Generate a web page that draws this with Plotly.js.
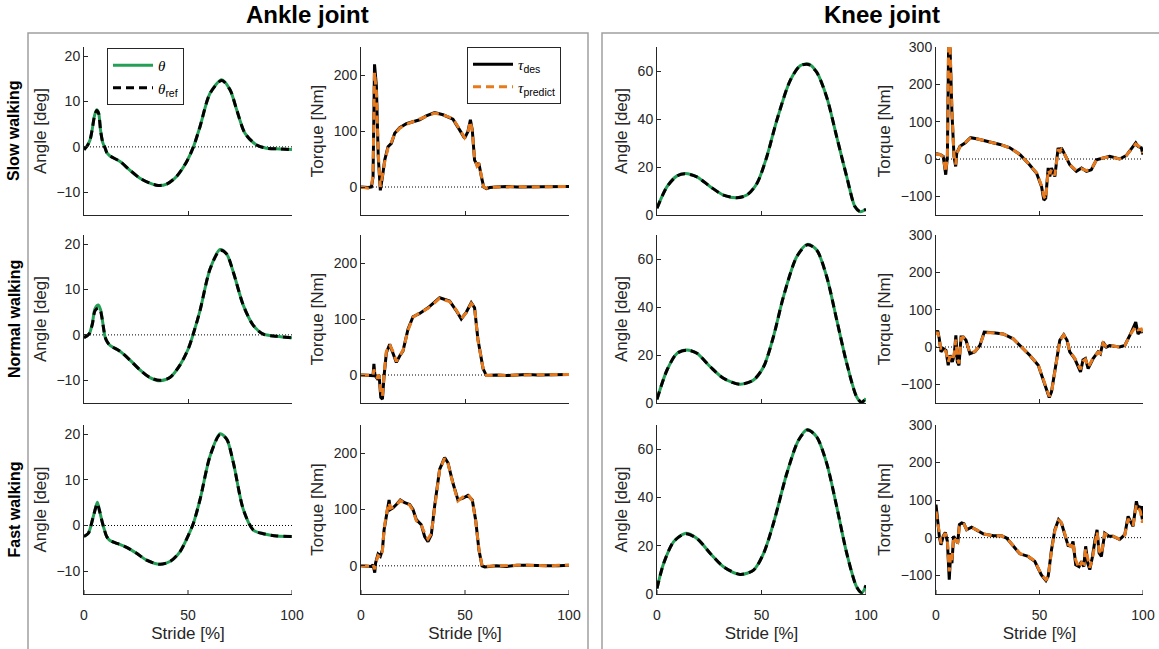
<!DOCTYPE html>
<html><head><meta charset="utf-8">
<script src="https://cdn.plot.ly/plotly-3.0.1.min.js"></script>
<style>html,body{margin:0;padding:0;background:#fff}#chart{width:1159px;height:649px}</style>
</head><body><div id="chart"></div>
<script>
// ---------------- data ----------------
const strideTicks = [0, 50, 100];
const strideRange = [0, 100];
const zeroRef = [0, 0];
const rowLabels = ['Slow walking', 'Normal walking', 'Fast walking'];
const jointTitles = ['Ankle joint', 'Knee joint'];
const yTitles = ['Angle [deg]', 'Torque [Nm]', 'Angle [deg]', 'Torque [Nm]'];
const yTickVals = [[-10, 0, 10, 20], [0, 100, 200], [0, 20, 40, 60], [-100, 0, 100, 200, 300]];
const yRanges = [[-15, 22], [-50, 250], [0, 70], [-150, 300]];

// Ankle angle, slow
const ankAngSlowX = [0,1.5,2.9,4,5,6.1,7,8,9,10.1,11,12.5,17.3,22,26.9,31.7,35.7,39.7,44.5,49.4,52.6,55.8,60.6,66.2,70.2,73.4,77.4,83,87.8,94.2,100];
const ankAngSlowTheta = [-0.6,0.2,1.5,4,6.8,8.2,7.5,3.5,1,-0.2,-1.3,-2,-3.2,-5.1,-6.9,-8,-8.5,-8.2,-6.5,-3.2,0,4.5,11.8,14.8,12.6,8.2,3,0.4,-0.3,-0.45,-0.6];
const ankAngSlowRef   = [-0.6,0.2,1.5,4,6.7,8.0,7.4,3.5,1,-0.2,-1.3,-2,-3.2,-5.1,-6.9,-8,-8.5,-8.2,-6.5,-3.2,0,4.5,11.8,14.6,12.6,8.2,3,0.4,-0.3,-0.45,-0.6];
// Ankle angle, normal
const ankAngNormX = [0,1.5,2.6,4,5.3,6.9,8,8.5,9.3,10.1,11,12.5,17.3,22,26.9,31.7,36.5,41.3,46.2,50.2,52.6,55.8,60.6,65.4,68.6,71.8,76.6,81.4,86.2,92.6,100];
const ankAngNormTheta = [-0.6,-0.2,0.3,2.5,5.8,6.6,5.5,4.3,1.8,-0.4,-1.4,-2.3,-3.6,-5.5,-7.7,-9.4,-10.1,-9.4,-6.6,-3.0,0.3,5.4,14.5,18.8,17.8,13.8,6.5,2.1,0.15,-0.3,-0.65];
const ankAngNormRef   = [-0.6,-0.2,0.3,2.3,5.3,5.9,5.2,4.1,1.8,-0.4,-1.4,-2.3,-3.6,-5.5,-7.7,-9.4,-10.0,-9.4,-6.6,-3.0,0.3,5.4,14.5,18.6,17.8,13.8,6.5,2.1,0.15,-0.3,-0.65];
// Ankle angle, fast
const ankAngFastX = [0,2.1,4.5,6.4,7.3,8.5,9.7,10.9,12.5,14.9,20.5,25.3,30.1,36.5,41.3,46.2,50.2,52.6,55.8,60.6,65.4,68.6,71.8,76.6,81.4,86.2,92.6,100];
const ankAngFastTheta = [-2.4,-1.7,2.0,5.1,3.6,1.25,-0.8,-2.4,-3.3,-3.75,-4.8,-6.1,-7.6,-8.5,-7.9,-5.7,-2.1,0.5,5.7,15.2,20.1,18.9,13.75,3.5,-1.0,-1.8,-2.3,-2.4];
const ankAngFastRef   = [-2.4,-1.7,2.0,4.8,3.5,1.25,-0.8,-2.4,-3.3,-3.75,-4.8,-6.1,-7.6,-8.5,-7.9,-5.7,-2.1,0.5,5.7,15.2,19.9,18.9,13.75,3.5,-1.0,-1.8,-2.3,-2.4];

// Knee angle
const kneeAngSlowX = [0,4.8,9.6,13.5,19.1,25.5,31.8,38.2,43,47.8,52.5,57.3,63.7,68.5,72.5,76.4,81.2,86,90.8,94.7,97.1,100];
const kneeAngSlowTheta = [2.8,11.8,16.3,17.3,15.9,11.8,8.3,7.2,8.3,13.1,24.2,39.4,56,62.2,62.9,59.5,49.1,32.5,15.9,3.5,1.4,2.4];
const kneeAngSlowRef   = [2.8,11.8,16.3,17.2,15.9,11.8,8.3,7.2,8.3,13.1,24.2,39.4,56,62.2,62.7,59.5,49.1,32.5,15.9,3.5,1.5,2.4];
const kneeAngNormX = [0,4.8,9.6,14.3,19.1,25.5,31.8,39.8,46.2,51,55.7,60.5,66.9,72,76.4,81.2,86,90.8,95.5,97.9,100];
const kneeAngNormTheta = [1.5,13.75,20.7,22.1,20.7,15.1,10.3,7.8,9.6,15.1,27.6,44.3,61,66.1,63.75,52.6,34.6,16.5,2.6,0.1,1.9];
const kneeAngNormRef   = [1.5,13.75,20.7,22.0,20.7,15.1,10.3,7.8,9.6,15.1,27.6,44.3,61,65.9,63.75,52.6,34.6,16.5,2.6,0.3,2.2];
const kneeAngFastX = [0,3.2,8,13.5,19.1,25.5,31.8,39.8,46.2,51,55.7,62.1,67.7,72,76.4,81.2,86,90.8,95.5,97.9,100];
const kneeAngFastTheta = [2.3,12.7,21.7,25.1,23,16.8,11.3,8.1,9.9,16.8,29.2,49.9,63.7,68.1,65.1,54.1,36.1,16.8,3.0,0.5,3.3];
const kneeAngFastRef   = [2.3,12.7,21.7,24.9,23,16.8,11.3,8.1,9.9,16.8,29.2,49.9,63.7,67.9,65.1,54.1,36.1,16.8,3.0,0.7,3.6];

// Ankle torque
const ankTqSlowX = [0,3.4,5,5.8,6.5,7.4,8.3,9.3,10.3,11.4,13,14.6,16.2,18.6,21.8,25,28.2,31.4,35.4,39.4,44.2,47.4,49.8,51.4,52.6,53.5,54.6,55.8,56.7,57.9,59,60.3,61.9,65,70,75,80,85,90,95,100];
const ankTqSlowDes = [0,-1,0,18,219,180,54,-6,18,48,72,78,96,106,113,116.5,120,127,133,129,121,102,87,99,120,102,48,39,42,18,0,-3,-1,0,1,0,0,1,0,0,1];
const ankTqSlowPred = [0,-2,0,22,205,170,60,0,20,45,70,80,95,105,112,117,121,127,132,129,122,103,88,98,117,100,50,37,40,20,0,-2,-1,0,0,1,0,0,0,1,1];
const ankTqNormX = [0,4.2,5.8,6.2,6.7,7.7,8.7,9.5,10.3,11.1,12.2,13.8,15.4,17,18.6,20.2,22.6,25,28.2,32.2,37.8,42.6,45.8,48.2,50.6,53,54.6,56.2,58.7,60.3,65,70,75,80,85,90,95,100];
const ankTqNormDes = [0,-1,-1,20,-1,-6,0,-40,-43,-1,40,55,40,22.5,34,43,82,104,110,120,138,132,115,100,112,129,120,64,11,-1,0,-1,0,1,0,0,0,1];
const ankTqNormPred = [0,-1,-1,10,2,-4,0,-30,-38,2,42,54,42,24,35,44,80,103,111,119,137,131,116,101,111,128,121,62,12,-1,0,-1,0,0,0,1,0,1];
const ankTqFastX = [0,5,5.8,6.6,7,8.2,9.3,10.3,11.1,12.5,13.5,14.1,15.4,17,18.9,21,23.4,25,26.6,29,30.6,32.2,33.8,35.4,37.8,40.2,41.8,44.2,46.6,49,51.4,53.5,55.1,56.7,58.2,59.5,65,70,75,80,85,90,95,100];
const ankTqFastDes = [0,-1,2,-12,5,21,17,28,64,100,117,100,103,109,117,112,109,100,82,73,52,43,55,106,171,192,183,147,117,120,125,117,82,28,0,-2,0,-1,1,1,0,0,0,1];
const ankTqFastPred = [0,-1,2,-6,4,18,15,26,66,98,112,102,104,108,116,111,108,98,80,72,58,48,57,104,170,191,182,146,115,122,127,116,80,30,0,-1,0,0,1,1,0,0,1,1];

// Knee torque
const kneeTqSlowX = [0,1.9,3.5,4.7,5.5,6.1,6.8,7.7,8.7,9.5,10,11.6,14,16.7,19.6,24.4,30.9,35.7,40.5,44.5,48.6,51,52.1,53,54.2,55,55.8,57.4,59,59.8,60.6,62.2,64.6,67.8,70.3,72.7,75,77.5,80.7,83.9,88.7,91.9,96.5,97.6,99.2,100];
const kneeTqSlowDes = [14,12,7,-42,7,310,295,124,7,-20,16,34,43,57,54,48,39,30,12,-11,-38,-74,-110,-105,-24,-47,-24,-47,30,16,30,12,-15,-33,-24,-33,-29,-2,3,7,0,9,43,34,30,12];
const kneeTqSlowPred = [12,12,6,-35,10,310,300,130,10,-15,14,33,44,56,54,48,39,30,12,-11,-37,-72,-100,-108,-30,-40,-28,-44,26,20,26,12,-15,-31,-26,-31,-27,-3,3,6,0,9,40,36,28,16];
const kneeTqNormX = [0,0.8,1.6,2.4,3.5,4.8,5.9,6.8,7.9,8.8,9.6,10.3,11.1,12.1,13.2,14.5,16.4,18.8,21.2,23.3,27.7,32.5,37.3,41.3,45.3,49.4,52.6,54.7,55.8,58.2,59.8,61.7,63.3,64.6,67,69.8,71,72.2,73.5,75.9,78.3,79.4,80.7,82.3,83.9,88.7,91.2,94.4,96.5,97.6,99.2,100];
const kneeTqNormDes = [35,44,22,-13,-4,-9,-49,-22,-40,-22,31,-40,-49,27,27,18,-18,-13,4,40,38,35,22,0,-22,-49,-102,-135,-120,-31,18,33,18,-13,-31,-67,-35,-31,-58,-31,-13,-18,13,0,4,0,4,40,67,35,44,38];
const kneeTqNormPred = [33,40,20,-10,-6,-12,-40,-25,-36,-20,20,-30,-44,24,26,18,-16,-12,4,38,38,35,22,0,-22,-48,-100,-132,-122,-33,16,32,19,-12,-30,-60,-38,-33,-54,-30,-14,-16,10,1,4,0,4,38,55,46,48,40];
const kneeTqFastX = [0,0.6,1.6,2.4,3.5,4.5,5.5,6.4,7.1,7.7,8.5,9.5,10.5,11.3,12.4,13.5,14.8,17.2,19.6,22.8,27.7,31.7,34.1,37.3,40.5,44.5,47.7,50.9,53.1,54.2,55.8,57.4,59.2,60.6,62.2,63.8,65.4,66.2,67.5,69.1,70.3,71.4,72.3,73.3,74.3,75.6,76.7,77.8,78.8,79.9,81.5,83.6,85.5,88.7,91.2,92.8,93.9,95.2,96.8,97.7,98.7,99.7,100];
const kneeTqFastDes = [88,48,4,-19,4,14,-10,-112,-41,-68,4,-5,-14,35,39,37,21,28,21,10,5,5,-1,-23,-43,-50,-63,-99,-114,-103,-32,21,48,39,8,-21,-23,-10,-72,-77,-63,-77,-23,-68,-85,-50,-10,21,-41,-50,12,4,4,-5,8,57,44,30,97,75,84,48,84];
const kneeTqFastPred = [70,45,6,-15,2,12,-8,-90,-45,-60,2,-8,-12,30,38,36,22,27,21,10,5,5,-1,-22,-42,-50,-62,-98,-112,-105,-35,18,46,40,10,-18,-24,-12,-60,-80,-66,-70,-30,-60,-80,-55,-14,16,-35,-45,10,5,4,-4,7,50,42,32,88,80,70,40,50];

// ---------------- figure ----------------
const W = 1159, H = 649;
const colPx = [[84, 292], [361, 569], [657, 866], [936, 1143]];
const rowPx = [[47, 215], [235, 403], [425, 594]];
const GREEN = '#23a055', ORANGE = '#e87a1e', AXC = '#262626';
const FONT = 'Liberation Sans, Arial, sans-serif';

const panels = [
  [0, 0, ankAngSlowX, ankAngSlowTheta, ankAngSlowRef, 'angle'],
  [0, 1, ankTqSlowX, ankTqSlowDes, ankTqSlowPred, 'torque'],
  [0, 2, kneeAngSlowX, kneeAngSlowTheta, kneeAngSlowRef, 'kneeangle'],
  [0, 3, kneeTqSlowX, kneeTqSlowDes, kneeTqSlowPred, 'torque'],
  [1, 0, ankAngNormX, ankAngNormTheta, ankAngNormRef, 'angle'],
  [1, 1, ankTqNormX, ankTqNormDes, ankTqNormPred, 'torque'],
  [1, 2, kneeAngNormX, kneeAngNormTheta, kneeAngNormRef, 'kneeangle'],
  [1, 3, kneeTqNormX, kneeTqNormDes, kneeTqNormPred, 'torque'],
  [2, 0, ankAngFastX, ankAngFastTheta, ankAngFastRef, 'angle'],
  [2, 1, ankTqFastX, ankTqFastDes, ankTqFastPred, 'torque'],
  [2, 2, kneeAngFastX, kneeAngFastTheta, kneeAngFastRef, 'kneeangle'],
  [2, 3, kneeTqFastX, kneeTqFastDes, kneeTqFastPred, 'torque']
];

const serif = s => '<span style="font-family:Liberation Serif,serif"><i>' + s + '</i></span>';
const traces = [];
const legendBase = {xanchor: 'left', yanchor: 'top', bgcolor: '#fff', bordercolor: AXC, borderwidth: 1,
  font: {size: 15, color: '#000', family: FONT}, itemwidth: 40, tracegroupgap: 0};
const layout = {
  width: W, height: H,
  margin: {l: 0, r: 0, t: 0, b: 0},
  paper_bgcolor: '#fff', plot_bgcolor: 'rgba(0,0,0,0)',
  font: {family: FONT, color: AXC, size: 17},
  showlegend: true,
  legend: Object.assign({x: 107 / W, y: 1 - 48 / H}, legendBase),
  legend2: Object.assign({x: 467 / W, y: 1 - 47 / H}, legendBase),
  annotations: [], shapes: []
};

panels.forEach(p => {
  const [r, c, xs, y1, y2, kind] = p;
  const i = r * 4 + c + 1;
  const sfx = i === 1 ? '' : String(i);
  const xa = 'x' + sfx, ya = 'y' + sfx;
  const common = {showline: true, linecolor: AXC, linewidth: 1, ticks: 'inside', ticklen: 4, tickcolor: AXC,
    showgrid: false, zeroline: false, tickfont: {size: 14, color: AXC, family: FONT}, fixedrange: true};
  const xax = Object.assign({}, common, {
    domain: [colPx[c][0] / W, colPx[c][1] / W], anchor: ya, range: strideRange,
    tickmode: 'array', tickvals: strideTicks, showticklabels: r === 2
  });
  if (r === 2) {
    // labels pushed down by a transparent outside tick; the visible inside ticks are drawn as shapes
    xax.ticks = 'outside';
    xax.ticklen = 8;
    xax.tickcolor = 'rgba(0,0,0,0)';
    xax.title = {text: 'Stride [%]', font: {size: 17, color: AXC, family: FONT}, standoff: 5};
    strideTicks.forEach(t => {
      layout.shapes.push({type: 'line', xref: xa, yref: ya + ' domain', x0: t, x1: t,
        ysizemode: 'pixel', yanchor: 0, y0: 0, y1: 4, line: {color: AXC, width: 1}});
    });
  }
  layout['xaxis' + sfx] = xax;
  layout['yaxis' + sfx] = Object.assign({}, common, {
    domain: [1 - rowPx[r][1] / H, 1 - rowPx[r][0] / H], anchor: xa, range: yRanges[c],
    tickmode: 'array', tickvals: yTickVals[c],
    title: {text: yTitles[c], font: {size: 17, color: AXC, family: FONT}, standoff: 5}
  });
  if (kind !== 'kneeangle') {
    traces.push({x: strideRange, y: zeroRef, xaxis: xa, yaxis: ya, mode: 'lines', showlegend: false,
      hoverinfo: 'skip', line: {color: '#000', width: 1, dash: '1px,2px'}});
  }
  const isAngle = kind !== 'torque';
  const shape = isAngle ? 'spline' : 'linear';
  const first = r === 0 && (c === 0 || c === 1);
  const lg = c === 1 ? 'legend2' : 'legend';
  if (isAngle) {
    traces.push({x: xs, y: y1, xaxis: xa, yaxis: ya, mode: 'lines', name: serif('θ'),
      legend: lg, showlegend: first, line: {color: GREEN, width: 3, shape: shape, smoothing: 0.8}});
    traces.push({x: xs, y: y2, xaxis: xa, yaxis: ya, mode: 'lines', name: serif('θ') + '<sub>ref</sub>',
      legend: lg, showlegend: first, line: {color: '#000', width: 3, dash: '8px,5px', shape: shape, smoothing: 0.8}});
  } else {
    traces.push({x: xs, y: y1, xaxis: xa, yaxis: ya, mode: 'lines', name: serif('τ') + '<sub>des</sub>',
      legend: lg, showlegend: first, line: {color: '#000', width: 3, shape: shape}});
    traces.push({x: xs, y: y2, xaxis: xa, yaxis: ya, mode: 'lines', name: serif('τ') + '<sub>predict</sub>',
      legend: lg, showlegend: first, line: {color: ORANGE, width: 3, dash: '8px,5px', shape: shape}});
  }
});

layout.annotations.push({text: '<b>' + jointTitles[0] + '</b>', xref: 'paper', yref: 'paper', x: 307 / W, y: 1 - 15 / H,
  xanchor: 'center', yanchor: 'middle', showarrow: false, font: {size: 24, color: '#000', family: FONT}});
layout.annotations.push({text: '<b>' + jointTitles[1] + '</b>', xref: 'paper', yref: 'paper', x: 882 / W, y: 1 - 15 / H,
  xanchor: 'center', yanchor: 'middle', showarrow: false, font: {size: 24, color: '#000', family: FONT}});
rowLabels.forEach((t, r) => {
  layout.annotations.push({text: '<b>' + t + '</b>', xref: 'paper', yref: 'paper', x: 14 / W,
    y: 1 - ((rowPx[r][0] + rowPx[r][1]) / 2) / H, xanchor: 'center', yanchor: 'middle', textangle: -90,
    showarrow: false, font: {size: 16, color: '#000', family: FONT}});
});
layout.shapes.push({type: 'rect', xref: 'paper', yref: 'paper', x0: 28 / W, x1: 588 / W, y0: -0.05, y1: 1 - 33 / H,
  line: {color: '#a0a0a0', width: 1.5}, layer: 'below'});
layout.shapes.push({type: 'rect', xref: 'paper', yref: 'paper', x0: 602 / W, x1: 1.05, y0: -0.05, y1: 1 - 33 / H,
  line: {color: '#a0a0a0', width: 1.5}, layer: 'below'});

Plotly.newPlot('chart', traces, layout, {staticPlot: true, displayModeBar: false});
</script></body></html>
